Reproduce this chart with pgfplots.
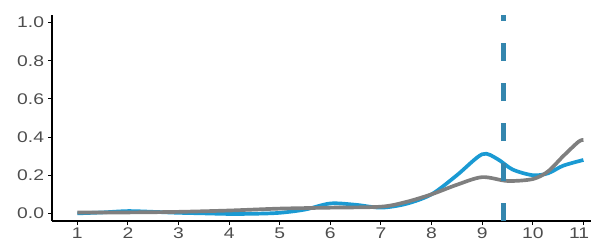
\documentclass[border=0pt]{standalone}
\usepackage{pgfplots}
\pgfplotsset{compat=1.18}
\usepackage{fontspec}
\setmainfont{Liberation Sans}
\definecolor{cblue}{HTML}{1A9AD3}
\definecolor{cgray}{HTML}{7F7F7F}
\definecolor{cdash}{HTML}{3486AE}
\definecolor{ctick}{HTML}{4D4D4D}
\begin{document}
\begin{tikzpicture}[x=1bp,y=1bp]
\useasboundingbox (0,0) rectangle (591,247);
\begin{axis}[
  at={(52bp,26bp)}, anchor=south west,
  scale only axis, width=539bp, height=206bp,
  xmin=0.5, xmax=11.15, ymin=-0.04, ymax=1.04,
  axis lines=left, axis line style={-, black, line width=1.3pt},
  xtick={1,...,10}, ytick={0,0.2,...,1.0},
  extra x ticks={11},
  extra x tick style={xticklabel style={xshift=-3.5bp}},
  yticklabel style={/pgf/number format/fixed, /pgf/number format/fixed zerofill, /pgf/number format/precision=1, xshift=-1bp},
  xticklabel style={yshift=-1bp},
  /pgf/number format/assume math mode=true,
  tick align=outside, major tick length=4bp,
  tick style={black, line width=1pt},
  ticklabel style={font=\fontsize{15.5}{15.5}\selectfont, text=ctick, xscale=1.25, inner sep=2bp},
  clip=false,
]
\addplot[cblue, line width=3.7pt, smooth] coordinates {
(1,0.0) (1.5,0.005) (2,0.012) (2.5,0.008) (3,0.003) (3.5,0.0) (4,-0.003) (4.5,-0.002)
(5,0.003) (5.5,0.02) (6,0.052) (6.5,0.045) (7,0.03) (7.5,0.05) (8,0.10) (8.5,0.2)
(9,0.31) (9.3,0.285) (9.6,0.23) (10,0.20) (10.3,0.21) (10.6,0.25) (11,0.28)};
\addplot[cgray, line width=3.7pt, smooth] coordinates {
(1,0.005) (2,0.005) (3,0.008) (4,0.015) (5,0.025) (6,0.03) (7,0.035) (7.5,0.06)
(8,0.10) (8.5,0.15) (9,0.19) (9.5,0.17) (10,0.18) (10.3,0.22) (10.6,0.30) (10.9,0.375) (11,0.385)};
\addplot[cdash, line width=4.5pt, dash pattern=on 18bp off 22bp] coordinates {(9.42,-0.04) (9.42,1.04)};
\end{axis}
\end{tikzpicture}
\end{document}
